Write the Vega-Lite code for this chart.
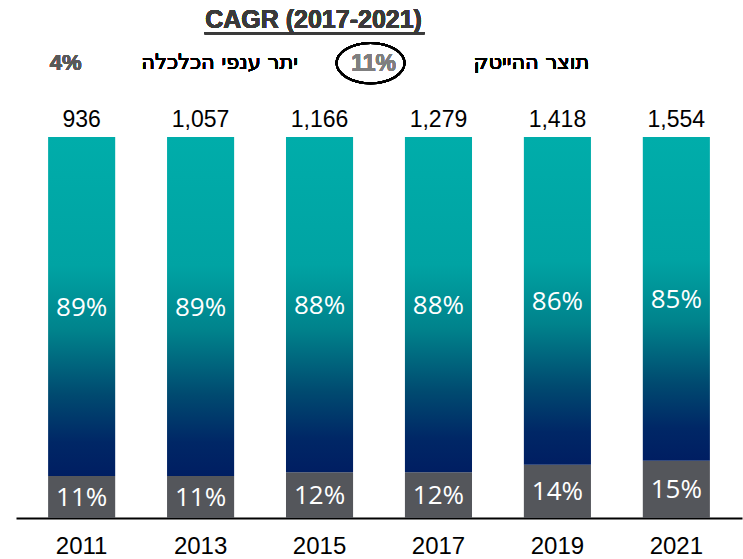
{
  "$schema": "https://vega.github.io/schema/vega-lite/v6.json",
  "autosize": "none",
  "width": 726,
  "height": 381,
  "padding": {"left": 16, "top": 137, "right": 1, "bottom": 41},
  "background": "white",
  "config": {"view": {"stroke": null}},
  "data": {
    "values": [
      {"year": "2011", "segment": "hitech", "order": 1, "share": 0.11, "label": "11%", "total": "936"},
      {"year": "2011", "segment": "other", "order": 2, "share": 0.89, "label": "89%", "total": "936"},
      {"year": "2013", "segment": "hitech", "order": 1, "share": 0.11, "label": "11%", "total": "1,057"},
      {"year": "2013", "segment": "other", "order": 2, "share": 0.89, "label": "89%", "total": "1,057"},
      {"year": "2015", "segment": "hitech", "order": 1, "share": 0.12, "label": "12%", "total": "1,166"},
      {"year": "2015", "segment": "other", "order": 2, "share": 0.88, "label": "88%", "total": "1,166"},
      {"year": "2017", "segment": "hitech", "order": 1, "share": 0.12, "label": "12%", "total": "1,279"},
      {"year": "2017", "segment": "other", "order": 2, "share": 0.88, "label": "88%", "total": "1,279"},
      {"year": "2019", "segment": "hitech", "order": 1, "share": 0.14, "label": "14%", "total": "1,418"},
      {"year": "2019", "segment": "other", "order": 2, "share": 0.86, "label": "86%", "total": "1,418"},
      {"year": "2021", "segment": "hitech", "order": 1, "share": 0.15, "label": "15%", "total": "1,554"},
      {"year": "2021", "segment": "other", "order": 2, "share": 0.85, "label": "85%", "total": "1,554"}
    ]
  },
  "transform": [
    {"stack": "share", "groupby": ["year"], "sort": [{"field": "order"}], "offset": "normalize", "as": ["s0", "s1"]},
    {"calculate": "(datum.s0 + datum.s1) / 2", "as": "mid"}
  ],
  "encoding": {
    "x": {
      "field": "year",
      "type": "ordinal",
      "scale": {"paddingInner": 0.436, "paddingOuter": 0.27},
      "axis": {
        "title": null,
        "labelAngle": 0,
        "ticks": false,
        "domainColor": "#000000",
        "domainWidth": 2,
        "labelFont": "Liberation Sans",
        "labelFontSize": 24,
        "labelColor": "#000000",
        "labelPadding": 16
      }
    }
  },
  "layer": [
    {
      "transform": [{"filter": "datum.segment == 'hitech'"}],
      "mark": {"type": "bar", "color": "#54565B"},
      "encoding": {
        "y": {"field": "s0", "type": "quantitative", "scale": {"domain": [0, 1], "nice": false, "zero": true}, "axis": null},
        "y2": {"field": "s1"}
      }
    },
    {
      "transform": [{"filter": "datum.segment == 'other'"}],
      "mark": {
        "type": "bar",
        "color": {
          "gradient": "linear",
          "x1": 0, "y1": 0, "x2": 0, "y2": 1,
          "stops": [
            {"offset": 0, "color": "#00ADAA"},
            {"offset": 0.38, "color": "#00A3A3"},
            {"offset": 0.57, "color": "#00838C"},
            {"offset": 0.76, "color": "#004A70"},
            {"offset": 0.9, "color": "#002766"},
            {"offset": 1, "color": "#001E62"}
          ]
        }
      },
      "encoding": {
        "y": {"field": "s0", "type": "quantitative"},
        "y2": {"field": "s1"}
      }
    },
    {
      "mark": {"type": "text", "font": "Open Sans", "fontSize": 26, "color": "#FFFFFF", "baseline": "middle", "dy": 1},
      "encoding": {
        "y": {"field": "mid", "type": "quantitative"},
        "text": {"field": "label"}
      }
    },
    {
      "transform": [{"filter": "datum.segment == 'other'"}],
      "mark": {"type": "text", "font": "Liberation Sans", "fontSize": 23, "color": "#000000", "baseline": "alphabetic", "dy": -10},
      "encoding": {
        "y": {"field": "s1", "type": "quantitative"},
        "text": {"field": "total"}
      }
    },
    {
      "mark": {"type": "text", "font": "Liberation Sans", "fontWeight": "bold", "fontSize": 25, "color": "#3A3A3A", "baseline": "alphabetic", "dx": -6},
      "encoding": {
        "x": {"datum": "2015"},
        "y": {"datum": 1.286},
        "text": {"value": "CAGR (2017-2021)"}
      }
    },
    {
      "mark": {"type": "rule", "color": "#3A3A3A", "strokeWidth": 2, "xOffset": 4, "x2Offset": -14},
      "encoding": {
        "x": {"datum": "2013"},
        "x2": {"datum": "2017"},
        "y": {"datum": 1.272}
      }
    },
    {
      "mark": {"type": "text", "font": "Liberation Sans", "fontWeight": "bold", "fontSize": 22, "color": "#595959", "baseline": "middle", "dx": -16},
      "encoding": {
        "x": {"datum": "2011"},
        "y": {"datum": 1.194},
        "text": {"value": "4%"}
      }
    },
    {
      "mark": {"type": "text", "font": "DejaVu Sans", "fontWeight": "normal", "fontSize": 21, "color": "#000000", "baseline": "middle", "dx": 19},
      "encoding": {
        "x": {"datum": "2013"},
        "y": {"datum": 1.194},
        "text": {"value": "יתר ענפי הכלכלה"}
      }
    },
    {
      "mark": {"type": "point", "shape": "M-1,0A1,0.59,0,1,1,1,0A1,0.59,0,1,1,-1,0Z", "size": 4624, "filled": false, "stroke": "#000000", "strokeWidth": 2, "opacity": 1, "xOffset": 51},
      "encoding": {
        "x": {"datum": "2015"},
        "y": {"datum": 1.194}
      }
    },
    {
      "mark": {"type": "text", "font": "Liberation Sans", "fontWeight": "bold", "fontSize": 23, "color": "#7F7F7F", "baseline": "middle", "dx": 54, "dy": 1},
      "encoding": {
        "x": {"datum": "2015"},
        "y": {"datum": 1.194},
        "text": {"value": "11%"}
      }
    },
    {
      "mark": {"type": "text", "font": "DejaVu Sans", "fontWeight": "normal", "fontSize": 21, "color": "#000000", "baseline": "middle", "dx": -26},
      "encoding": {
        "x": {"datum": "2019"},
        "y": {"datum": 1.194},
        "text": {"value": "תוצר ההייטק"}
      }
    }
  ]
}
